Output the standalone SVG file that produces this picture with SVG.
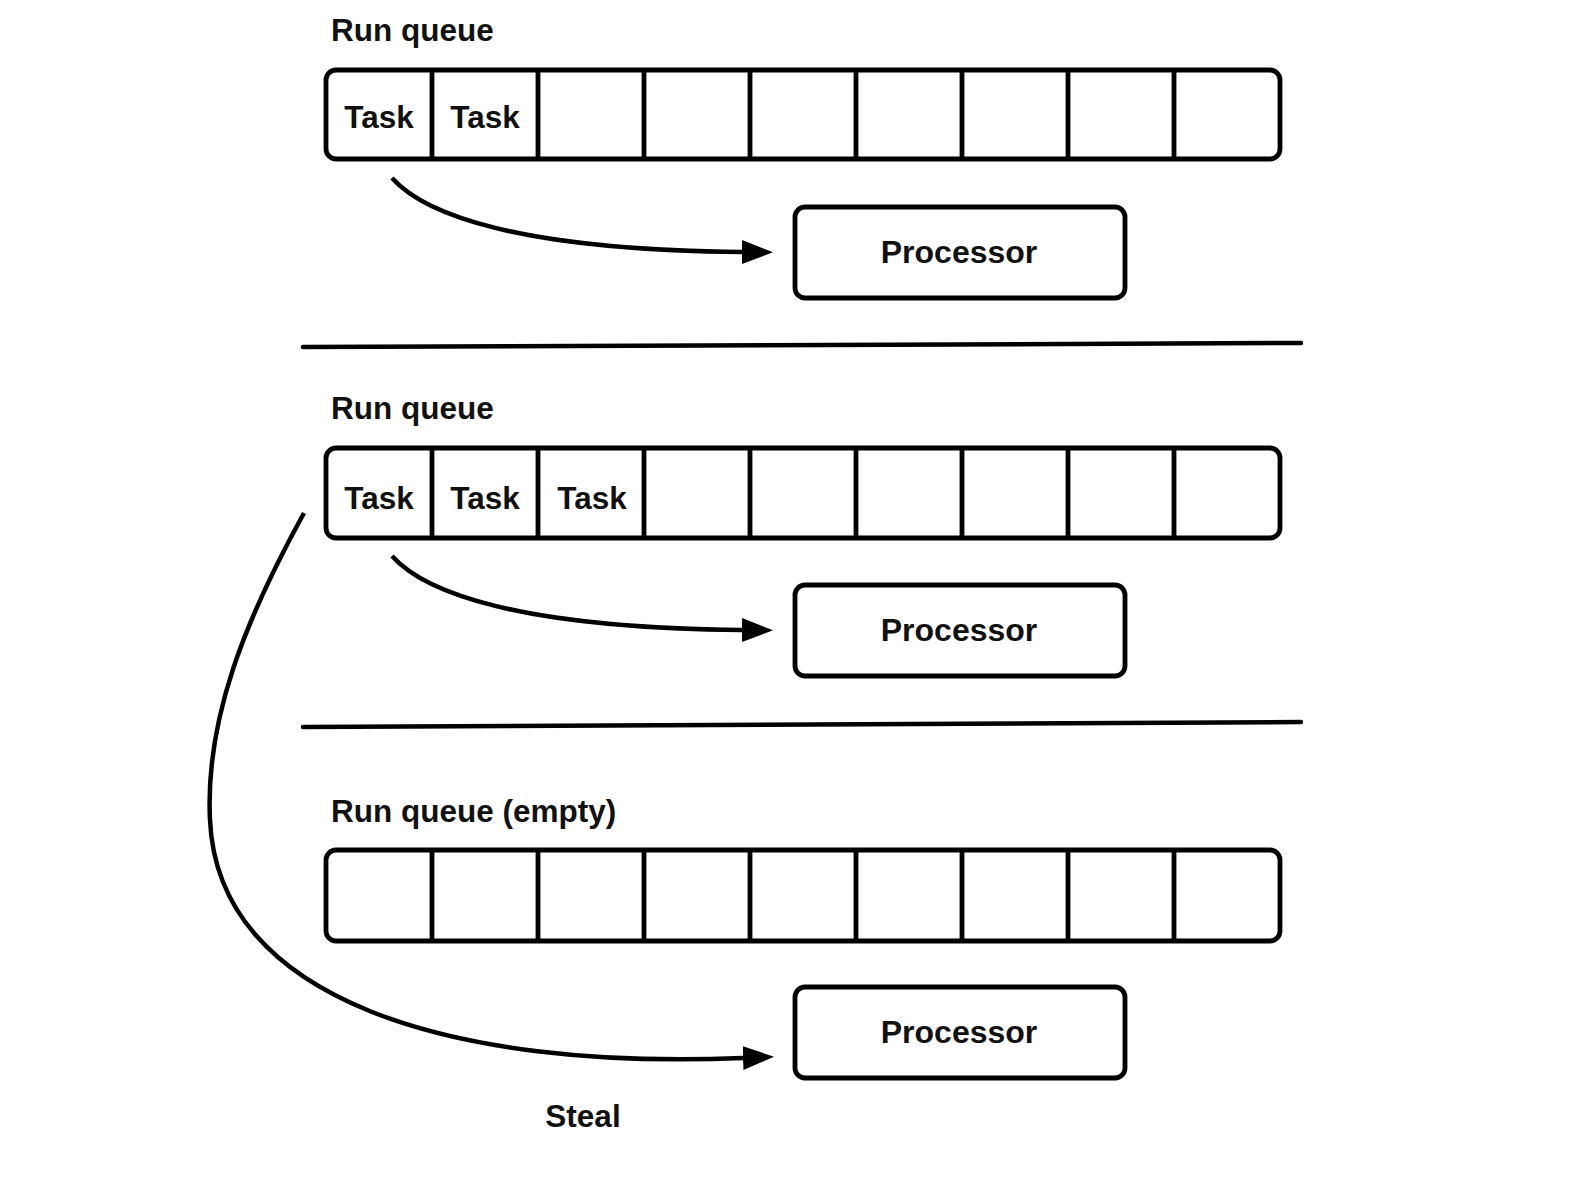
<svg xmlns="http://www.w3.org/2000/svg" width="1596" height="1180" viewBox="0 0 1596 1180">
<style>
.box{fill:#fff;stroke:#000;stroke-width:4.8}
.div{stroke:#000;stroke-width:4.8}
.t{font-family:"Liberation Sans",Arial,Helvetica,sans-serif;font-weight:bold;font-size:31.5px;fill:#111}
.p{font-size:32px}
.c{text-anchor:middle}
.conn{fill:none;stroke:#000;stroke-width:4.5}
.sep{stroke:#000;stroke-width:4.5;stroke-linecap:round}
</style>
<defs>
<marker id="arr" markerUnits="userSpaceOnUse" markerWidth="32" markerHeight="26" refX="0" refY="12" orient="auto">
<path d="M0,0 L31,12 L0,24 z" fill="#000"/>
</marker>
</defs>
<rect width="1596" height="1180" fill="#fff"/>

<g id="queue1">
<text class="t" x="331" y="41">Run queue</text>
<rect class="box" x="326" y="70" width="954" height="89" rx="10"/>
<path class="div" d="M432,70V159M538,70V159M644,70V159M750,70V159M856,70V159M962,70V159M1068,70V159M1174,70V159"/>
<text class="t c" x="379" y="128">Task</text>
<text class="t c" x="485" y="128">Task</text>
</g>
<g id="processor1">
<rect class="box" x="795" y="207" width="330" height="91" rx="10"/>
<text class="t p c" x="959" y="263">Processor</text>
</g>

<g id="separators">
<line class="sep" x1="303" y1="347" x2="1301" y2="343"/>
<line class="sep" x1="303" y1="727" x2="1301" y2="722"/>
</g>

<g id="queue2">
<text class="t" x="331" y="419">Run queue</text>
<rect class="box" x="326" y="448" width="954" height="90" rx="10"/>
<path class="div" d="M432,448V538M538,448V538M644,448V538M750,448V538M856,448V538M962,448V538M1068,448V538M1174,448V538"/>
<text class="t c" x="379" y="509">Task</text>
<text class="t c" x="485" y="509">Task</text>
<text class="t c" x="592" y="509">Task</text>
</g>
<g id="processor2">
<rect class="box" x="795" y="585" width="330" height="91" rx="10"/>
<text class="t p c" x="959" y="641">Processor</text>
</g>

<g id="queue3">
<text class="t" x="331" y="822">Run queue (empty)</text>
<rect class="box" x="326" y="850" width="954" height="91" rx="10"/>
<path class="div" d="M432,850V941M538,850V941M644,850V941M750,850V941M856,850V941M962,850V941M1068,850V941M1174,850V941"/>
</g>
<g id="processor3">
<rect class="box" x="795" y="987" width="330" height="91" rx="10"/>
<text class="t p c" x="959" y="1043">Processor</text>
</g>

<g id="connectors">
<path class="conn" d="M392,178 C425,215 520,250 742,252" marker-end="url(#arr)"/>
<path class="conn" d="M392,556 C425,593 520,628 742,630" marker-end="url(#arr)"/>
<path class="conn" d="M304,513 C245,620 205,720 210,820 C218,1000 450,1070 743,1058" marker-end="url(#arr)"/>
<text class="t c" x="583" y="1127">Steal</text>
</g>
</svg>
